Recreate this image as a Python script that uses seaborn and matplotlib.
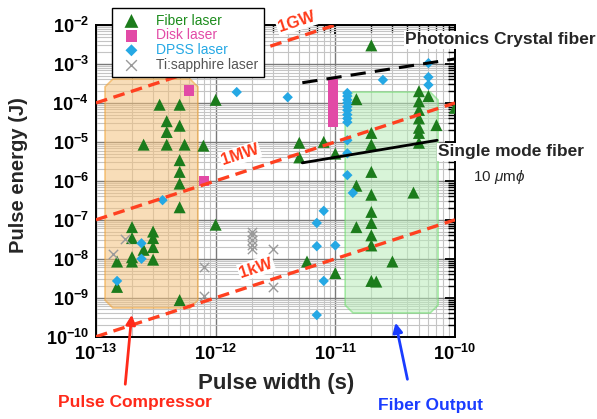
import matplotlib
matplotlib.use("Agg")
import numpy as np
import pandas as pd
import matplotlib.pyplot as plt
import seaborn as sns
from matplotlib.patches import Polygon, FancyArrowPatch
from matplotlib.ticker import LogLocator, FixedLocator, FuncFormatter, NullFormatter

sns.set_style("white")
plt.rcParams["font.family"] = ["Liberation Sans", "DejaVu Sans"]
plt.rcParams["mathtext.fontset"] = "custom"
plt.rcParams["mathtext.rm"] = "Liberation Sans"
plt.rcParams["mathtext.it"] = "Liberation Sans:italic"
plt.rcParams["mathtext.bf"] = "Liberation Sans:bold"

# ---- data (pulse width in s, pulse energy in J) ----
fiber_w = [3.4e-13, 5e-13, 3.9e-13, 5e-13, 3.9e-13, 2.5e-13, 3.9e-13, 5.5e-13, 7.9e-13,
           5e-13, 5e-13, 5e-13, 1e-12, 5e-13, 1e-12, 2e-13, 2e-13, 3e-13, 3e-13, 3e-13,
           2.5e-13, 3e-13, 2e-13, 2e-13, 1.5e-13, 1.5e-13, 5e-13,
           5e-12, 5e-12, 8e-12, 1e-11, 1.5e-11, 2e-11, 2e-11, 2e-11, 1.5e-11, 2e-11,
           5e-11, 5e-11, 5e-11, 5e-11, 5e-11, 5e-11, 5e-11, 6e-11, 7e-11, 1e-10, 4.5e-11,
           2e-11, 2e-11, 1.5e-11, 2e-11, 2e-11, 2e-11, 3e-11, 2e-11, 2.2e-11, 1e-11, 5.8e-12]
fiber_e = [9e-5, 9e-5, 3.4e-5, 2.6e-5, 1.8e-5, 8.5e-6, 8.5e-6, 8.5e-6, 8e-6,
           3.4e-6, 1.7e-6, 8.5e-7, 1.2e-4, 2.1e-7, 7.5e-8, 6.5e-8, 3.4e-8, 5e-8, 3.4e-8, 2e-8,
           1.7e-8, 9.5e-9, 1.1e-8, 8.5e-9, 8.5e-9, 1.9e-9, 8.7e-10,
           9.5e-6, 4e-6, 1e-5, 5e-6, 1.25e-4, 1.7e-5, 8.5e-6, 1.7e-6, 7.5e-7, 4.4e-7,
           2e-4, 1.1e-4, 6.6e-5, 4e-5, 2.3e-5, 1.7e-5, 9.5e-6, 1.5e-4, 2.7e-5, 7.5e-5, 5e-7,
           3e-3, 1.6e-7, 6.5e-8, 8.3e-8, 4e-8, 2.2e-8, 8.5e-9, 2.7e-9, 2.6e-9, 4.3e-9, 8.5e-9]

disk_w = [6e-13, 8e-13] + [9.6e-12] * 11
disk_e = [2.1e-4, 1e-6, 3e-4, 2.5e-4, 2e-4, 1.6e-4, 1.3e-4, 1e-4, 8e-5, 6.5e-5, 5e-5, 4e-5, 3.2e-5]

dpss_w = [1.5e-12, 4e-12, 2.5e-11, 6e-11, 6e-11, 6e-11] + [1.26e-11] * 12 + \
         [1.4e-11, 3.6e-13, 2.4e-13, 2.4e-13, 1.5e-13,
          8e-12, 7e-12, 7e-12, 1e-11, 8e-12, 7e-12]
dpss_e = [1.9e-4, 1.4e-4, 3.9e-4, 1.05e-3, 4.6e-4, 2.9e-4,
          1.8e-4, 1.5e-4, 1.2e-4, 1e-4, 8e-5, 6.5e-5, 5e-5, 4e-5, 3.2e-5, 1.1e-5, 5.1e-6, 1.4e-6,
          4.9e-7, 3.2e-7, 2.5e-8, 1e-8, 2.7e-9,
          1.7e-7, 8.3e-8, 2.1e-8, 2.2e-8, 2.7e-9, 3.6e-10]

tisa_w = [1.75e-13, 1.4e-13, 8e-13, 8e-13, 2e-12, 2e-12, 2e-12, 2e-12, 2e-12, 3e-12, 3e-12]
tisa_e = [3.2e-8, 1.3e-8, 6e-9, 1.1e-9, 5e-8, 4e-8, 3e-8, 2.3e-8, 1.8e-8, 1.8e-8, 1.9e-9]

# constant peak power lines
powers = [1e3, 1e6, 1e9]
power_labels = ["1kW", "1MW", "1GW"]
line_w = [1e-13, 1e-10]

# fiber limit lines
pcf_w = [5.3e-12, 1e-10]
pcf_e = [3.3e-4, 1.35e-3]
smf_w = [5.3e-12, 7.1e-11]
smf_e = [2.9e-6, 1.1e-5]

# axis decades
x_ticks = [1e-13, 1e-12, 1e-11, 1e-10]
y_ticks = [1e-10, 1e-9, 1e-8, 1e-7, 1e-6, 1e-5, 1e-4, 1e-3, 1e-2]

fig = plt.figure(figsize=(5.97, 4.19), dpi=100)
ax = fig.add_axes([0.1608, 0.1964, 0.6013, 0.7439])
ax.set_xscale("log")
ax.set_yscale("log")

ax.set_axisbelow(True)
ax.grid(which="major", color="#7a7a7a", lw=1.0)
ax.grid(which="minor", color="#c4c4c4", lw=0.8)

# shaded regions (chamfered boxes in axes fraction)
def chamfer_box(x0, y0, x1, y1, c=0.022):
    cy = c * 359 / 311.7
    return [(x0 + c, y0), (x1 - c, y0), (x1, y0 + cy), (x1, y1 - cy),
            (x1 - c, y1), (x0 + c, y1), (x0, y1 - cy), (x0, y0 + cy)]

ax.add_patch(Polygon(chamfer_box(0.025, 0.092, 0.284, 0.827), closed=True,
                     transform=ax.transAxes, facecolor="#f3c27e", alpha=0.55,
                     edgecolor="#f0a030", lw=1.2, zorder=1.5))
ax.add_patch(Polygon(chamfer_box(0.694, 0.076, 0.953, 0.785), closed=True,
                     transform=ax.transAxes, facecolor="#b8ebb8", alpha=0.55,
                     edgecolor="#6ade6a", lw=1.2, zorder=1.5))

# scatter series
sns.scatterplot(x=fiber_w, y=fiber_e, marker="^", s=75, color="#1c7c1c",
                edgecolor="none", label="Fiber laser", ax=ax, zorder=3)
sns.scatterplot(x=disk_w, y=disk_e, marker="s", s=55, color="#e24aa6",
                edgecolor="none", label="Disk laser", ax=ax, zorder=3)
sns.scatterplot(x=dpss_w, y=dpss_e, marker="D", s=28, color="#25a8e4",
                edgecolor="none", label="DPSS laser", ax=ax, zorder=3)
sns.scatterplot(x=tisa_w, y=tisa_e, marker="x", s=45, color="#9a9a9a",
                linewidth=1.0, label="Ti:sapphire laser", ax=ax, zorder=3)

# peak power lines
for p in powers:
    ax.plot(line_w, [p * w for w in line_w], color="#ff4020", lw=2.4,
            linestyle=(0, (3.5, 2)), zorder=4)
for lab, lx, ly in zip(power_labels, [10 ** -11.661, 10 ** -11.795, 10 ** -11.326],
                       [10 ** -8.237, 10 ** -5.337, 10 ** -1.923]):
    ax.text(lx, ly, lab, color="#ff3a1a", fontsize=12, fontweight="bold", rotation=18,
            ha="center", va="center", zorder=5, clip_on=False,
            bbox=dict(facecolor="white", edgecolor="none", pad=1.0))

ax.plot(pcf_w, pcf_e, color="black", lw=2.2, linestyle=(0, (5, 3)), zorder=4)
ax.plot(smf_w, smf_e, color="black", lw=2.0, zorder=4)

ax.set_xlim(1e-13, 1e-10)
ax.set_ylim(1e-10, 1e-2)

ax.text(0.861, 0.952, "Photonics Crystal fiber", transform=ax.transAxes, fontsize=12.5,
        fontweight="bold", ha="left", va="center", clip_on=False, zorder=6,
        bbox=dict(facecolor="white", edgecolor="none", pad=1.0))
ax.text(0.953, 0.5926, "Single mode fiber", transform=ax.transAxes, fontsize=12.5,
        fontweight="bold", ha="left", va="center", clip_on=False, zorder=6,
        bbox=dict(facecolor="white", edgecolor="none", pad=1.0))
ax.text(1.05, 0.5124, r"10 $\mu$m$\phi$", transform=ax.transAxes, fontsize=11,
        ha="left", va="center", clip_on=False, zorder=6)

# axes styling
for s in ax.spines.values():
    s.set_color("black")
    s.set_linewidth(1.4)
ax.xaxis.set_major_locator(FixedLocator(x_ticks))
ax.yaxis.set_major_locator(FixedLocator(y_ticks))
ax.xaxis.set_minor_locator(LogLocator(base=10, subs=np.arange(2, 10), numticks=20))
ax.yaxis.set_minor_locator(LogLocator(base=10, subs=np.arange(2, 10), numticks=20))
fmt = FuncFormatter(lambda v, pos: r"$\mathbf{10^{%d}}$" % round(np.log10(v)))
ax.xaxis.set_major_formatter(fmt)
ax.yaxis.set_major_formatter(fmt)
ax.xaxis.set_minor_formatter(NullFormatter())
ax.yaxis.set_minor_formatter(NullFormatter())
ax.tick_params(which="both", direction="in", top=True, right=True, colors="black")
ax.tick_params(which="major", length=7, width=1.3, labelsize=13, pad=5)
ax.tick_params(which="minor", length=5, width=1.0)

ax.set_xlabel("Pulse width (s)", fontsize=16, fontweight="bold")
ax.set_ylabel("Pulse energy (J)", fontsize=14.5, fontweight="bold")
ax.xaxis.set_label_coords(0.501, -0.115)
ax.yaxis.set_label_coords(-0.19, 0.52)

# legend
handles, labels = ax.get_legend_handles_labels()
ax.get_legend().remove()
leg = fig.legend(handles, labels, loc="upper left", bbox_to_anchor=(0.1876, 0.9809),
                 borderaxespad=0, fancybox=False, framealpha=1, edgecolor="black",
                 fontsize=10, labelspacing=0.05, handletextpad=0.8, borderpad=0.4,
                 markerscale=1.15)
leg.get_frame().set_linewidth(1.0)
for t, c in zip(leg.get_texts(), ["#1c8c1c", "#e24aa6", "#25a8e4", "#555555"]):
    t.set_color(c)
leg.set_zorder(10)

# arrows and region labels
fig.patches.append(FancyArrowPatch((125 / 597, 1 - 387 / 419), (132 / 597, 1 - 312 / 419),
                                   transform=fig.transFigure, arrowstyle="-|>",
                                   color="#ff2a1a", lw=2.0, mutation_scale=14))
fig.text(135 / 597, 1 - 402 / 419, "Pulse Compressor", color="#ff2a1a", fontsize=12.5,
         fontweight="bold", ha="center", va="center")
fig.patches.append(FancyArrowPatch((408 / 597, 1 - 382 / 419), (395 / 597, 1 - 320 / 419),
                                   transform=fig.transFigure, arrowstyle="-|>",
                                   color="#1a3cff", lw=2.0, mutation_scale=14))
fig.text(431 / 597, 1 - 405 / 419, "Fiber Output", color="#1a3cff", fontsize=12.5,
         fontweight="bold", ha="center", va="center")

fig.savefig("out.png", dpi=100)
